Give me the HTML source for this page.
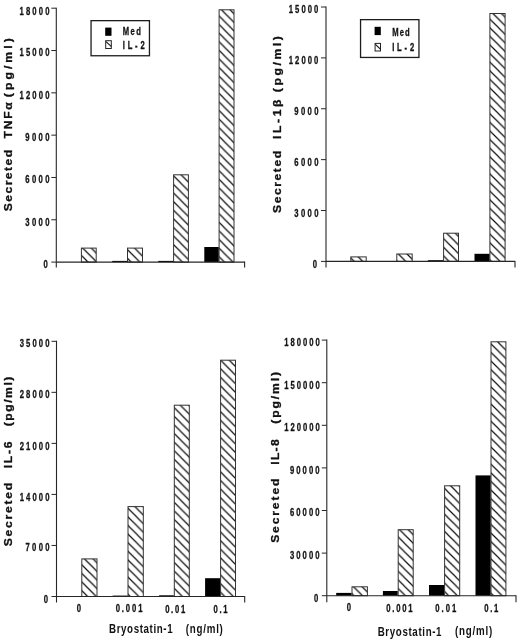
<!DOCTYPE html>
<html><head><meta charset="utf-8"><title>Bryostatin-1 cytokine secretion</title>
<style>
html,body{margin:0;padding:0;background:#fff;}
body{width:520px;height:642px;overflow:hidden;}
svg{display:block;will-change:transform;}
text{font-family:"Liberation Sans",sans-serif;fill:#111;stroke:#111;stroke-width:0.3px;paint-order:stroke;}
text.ns{stroke:none;}
</style></head>
<body>
<svg width="520" height="642" viewBox="0 0 520 642">
<defs>
<pattern id="h0" patternUnits="userSpaceOnUse" width="8.6" height="8.6" patternTransform="translate(0 2)"><path d="M-2.15,-2.15 L10.75,10.75 M-2.15,6.45 L2.15,10.75 M6.45,-2.15 L10.75,2.15" stroke="#0c0c0c" stroke-width="1.2" stroke-linecap="square"/></pattern>
<pattern id="h1" patternUnits="userSpaceOnUse" width="8.6" height="8.6" patternTransform="translate(0 1.8)"><path d="M-2.15,-2.15 L10.75,10.75 M-2.15,6.45 L2.15,10.75 M6.45,-2.15 L10.75,2.15" stroke="#0c0c0c" stroke-width="1.2" stroke-linecap="square"/></pattern>
<pattern id="h2" patternUnits="userSpaceOnUse" width="8.6" height="8.6" patternTransform="translate(0 2.3)"><path d="M-2.15,-2.15 L10.75,10.75 M-2.15,6.45 L2.15,10.75 M6.45,-2.15 L10.75,2.15" stroke="#0c0c0c" stroke-width="1.2" stroke-linecap="square"/></pattern>
<pattern id="h3" patternUnits="userSpaceOnUse" width="8.6" height="8.6" patternTransform="translate(0 3.3)"><path d="M-2.15,-2.15 L10.75,10.75 M-2.15,6.45 L2.15,10.75 M6.45,-2.15 L10.75,2.15" stroke="#0c0c0c" stroke-width="1.2" stroke-linecap="square"/></pattern>
<pattern id="h4" patternUnits="userSpaceOnUse" width="8.6" height="8.6" patternTransform="translate(0 1.8)"><path d="M-2.15,-2.15 L10.75,10.75 M-2.15,6.45 L2.15,10.75 M6.45,-2.15 L10.75,2.15" stroke="#0c0c0c" stroke-width="1.2" stroke-linecap="square"/></pattern>
<pattern id="h5" patternUnits="userSpaceOnUse" width="8.6" height="8.6" patternTransform="translate(0 1.8)"><path d="M-2.15,-2.15 L10.75,10.75 M-2.15,6.45 L2.15,10.75 M6.45,-2.15 L10.75,2.15" stroke="#0c0c0c" stroke-width="1.2" stroke-linecap="square"/></pattern>
<pattern id="h6" patternUnits="userSpaceOnUse" width="8.6" height="8.6" patternTransform="translate(0 1.5)"><path d="M-2.15,-2.15 L10.75,10.75 M-2.15,6.45 L2.15,10.75 M6.45,-2.15 L10.75,2.15" stroke="#0c0c0c" stroke-width="1.2" stroke-linecap="square"/></pattern>
<pattern id="h7" patternUnits="userSpaceOnUse" width="8.6" height="8.6" patternTransform="translate(0 2.2)"><path d="M-2.15,-2.15 L10.75,10.75 M-2.15,6.45 L2.15,10.75 M6.45,-2.15 L10.75,2.15" stroke="#0c0c0c" stroke-width="1.2" stroke-linecap="square"/></pattern>
<pattern id="h8" patternUnits="userSpaceOnUse" width="8.6" height="8.6" patternTransform="translate(0 1.4)"><path d="M-2.15,-2.15 L10.75,10.75 M-2.15,6.45 L2.15,10.75 M6.45,-2.15 L10.75,2.15" stroke="#0c0c0c" stroke-width="1.2" stroke-linecap="square"/></pattern>
<pattern id="h9" patternUnits="userSpaceOnUse" width="8.6" height="8.6" patternTransform="translate(0 1.9)"><path d="M-2.15,-2.15 L10.75,10.75 M-2.15,6.45 L2.15,10.75 M6.45,-2.15 L10.75,2.15" stroke="#0c0c0c" stroke-width="1.2" stroke-linecap="square"/></pattern>
<pattern id="h10" patternUnits="userSpaceOnUse" width="8.6" height="8.6" patternTransform="translate(0 1.3)"><path d="M-2.15,-2.15 L10.75,10.75 M-2.15,6.45 L2.15,10.75 M6.45,-2.15 L10.75,2.15" stroke="#0c0c0c" stroke-width="1.2" stroke-linecap="square"/></pattern>
<pattern id="h11" patternUnits="userSpaceOnUse" width="8.6" height="8.6" patternTransform="translate(0 2)"><path d="M-2.15,-2.15 L10.75,10.75 M-2.15,6.45 L2.15,10.75 M6.45,-2.15 L10.75,2.15" stroke="#0c0c0c" stroke-width="1.2" stroke-linecap="square"/></pattern>
<pattern id="h12" patternUnits="userSpaceOnUse" width="8.6" height="8.6" patternTransform="translate(0 1)"><path d="M-2.15,-2.15 L10.75,10.75 M-2.15,6.45 L2.15,10.75 M6.45,-2.15 L10.75,2.15" stroke="#0c0c0c" stroke-width="1.2" stroke-linecap="square"/></pattern>
<pattern id="h13" patternUnits="userSpaceOnUse" width="8.6" height="8.6" patternTransform="translate(0 1.1)"><path d="M-2.15,-2.15 L10.75,10.75 M-2.15,6.45 L2.15,10.75 M6.45,-2.15 L10.75,2.15" stroke="#0c0c0c" stroke-width="1.2" stroke-linecap="square"/></pattern>
<pattern id="h14" patternUnits="userSpaceOnUse" width="8.6" height="8.6" patternTransform="translate(0 0.8)"><path d="M-2.15,-2.15 L10.75,10.75 M-2.15,6.45 L2.15,10.75 M6.45,-2.15 L10.75,2.15" stroke="#0c0c0c" stroke-width="1.2" stroke-linecap="square"/></pattern>
<pattern id="h15" patternUnits="userSpaceOnUse" width="8.6" height="8.6" patternTransform="translate(0 -1)"><path d="M-2.15,-2.15 L10.75,10.75 M-2.15,6.45 L2.15,10.75 M6.45,-2.15 L10.75,2.15" stroke="#0c0c0c" stroke-width="1.2" stroke-linecap="square"/></pattern>
</defs>
<rect width="520" height="642" fill="#fff"/>
<rect x="81.4" y="248.1" width="14.8" height="14" fill="url(#h0)" stroke="#333" stroke-width="1"/>
<rect x="112.2" y="260.9" width="14.8" height="1.2" fill="#000"/>
<rect x="127.5" y="248.1" width="15" height="14" fill="url(#h1)" stroke="#333" stroke-width="1"/>
<rect x="158.2" y="260.9" width="14.9" height="1.2" fill="#000"/>
<rect x="173.6" y="174.8" width="14.8" height="87.3" fill="url(#h2)" stroke="#333" stroke-width="1"/>
<rect x="204.3" y="247" width="14.5" height="15.1" fill="#000"/>
<rect x="219.1" y="9.8" width="14.9" height="252.3" fill="url(#h3)" stroke="#333" stroke-width="1"/>
<line x1="56.3" y1="7.7" x2="56.3" y2="267.6" stroke="#262626" stroke-width="1.1"/>
<line x1="56.3" y1="262.1" x2="244.6" y2="262.1" stroke="#262626" stroke-width="1.1"/>
<line x1="244.6" y1="261.6" x2="244.6" y2="267.6" stroke="#262626" stroke-width="1.1"/>
<line x1="51.3" y1="8.2" x2="56.3" y2="8.2" stroke="#262626" stroke-width="1"/>
<text id="p1_t0" transform="translate(19.56 14.5) scale(0.74 1)" font-size="10.4" font-weight="bold" textLength="40.39" lengthAdjust="spacing">18000</text>
<line x1="51.3" y1="50.52" x2="56.3" y2="50.52" stroke="#262626" stroke-width="1"/>
<text id="p1_t1" transform="translate(19.56 56.39) scale(0.74 1)" font-size="10.4" font-weight="bold" textLength="40.39" lengthAdjust="spacing">15000</text>
<line x1="51.3" y1="92.83" x2="56.3" y2="92.83" stroke="#262626" stroke-width="1"/>
<text id="p1_t2" transform="translate(19.56 98.68) scale(0.74 1)" font-size="10.4" font-weight="bold" textLength="40.39" lengthAdjust="spacing">12000</text>
<line x1="51.3" y1="135.15" x2="56.3" y2="135.15" stroke="#262626" stroke-width="1"/>
<text id="p1_t3" transform="translate(25.23 141.47) scale(0.74 1)" font-size="10.4" font-weight="bold" textLength="32.79" lengthAdjust="spacing">9000</text>
<line x1="51.3" y1="177.47" x2="56.3" y2="177.47" stroke="#262626" stroke-width="1"/>
<text id="p1_t4" transform="translate(25.23 183.36) scale(0.74 1)" font-size="10.4" font-weight="bold" textLength="32.79" lengthAdjust="spacing">6000</text>
<line x1="51.3" y1="219.78" x2="56.3" y2="219.78" stroke="#262626" stroke-width="1"/>
<text id="p1_t5" transform="translate(25.23 225.65) scale(0.74 1)" font-size="10.4" font-weight="bold" textLength="32.79" lengthAdjust="spacing">3000</text>
<line x1="51.3" y1="262.1" x2="56.3" y2="262.1" stroke="#262626" stroke-width="1"/>
<text id="p1_t6" transform="translate(43.62 268.44) scale(0.74 1)" font-size="10.4" font-weight="bold" textLength="-2.7" lengthAdjust="spacing">0</text>
<text id="p1_ti0" transform="translate(11.7 211.18) rotate(-90) scale(1.12 1)" font-size="10.8" font-weight="bold" textLength="54.71" lengthAdjust="spacing">Secreted</text>
<text id="p1_ti1" transform="translate(11.7 138.38) rotate(-90) scale(1.12 1)" font-size="10.8" font-weight="bold" textLength="32.21" lengthAdjust="spacing">TNF&#945;</text>
<text id="p1_ti2" transform="translate(11.7 97.18) rotate(-90) scale(1.12 1)" font-size="10.8" font-weight="bold" textLength="52.57" lengthAdjust="spacing">(pg/ml)</text>
<rect x="91.05" y="20.65" width="58.4" height="35.1" fill="#fff" stroke="#1c1c1c" stroke-width="1.3"/>
<rect x="105.2" y="27.6" width="6.3" height="8.2" fill="#000"/>
<rect x="105.7" y="40.7" width="5.6" height="7.8" fill="#fff" stroke="#222" stroke-width="1"/>
<line x1="106" y1="41.7" x2="111.2" y2="46.4" stroke="#111" stroke-width="1.1"/>
<text id="p1_l0" transform="translate(122.78 35.38) scale(0.72 1)" font-size="10.6" font-weight="bold" textLength="25.28" lengthAdjust="spacing">Med</text>
<text id="p1_l1" transform="translate(122.78 49.06) scale(0.72 1)" font-size="10.6" font-weight="bold" textLength="30.44" lengthAdjust="spacing">IL-2</text>
<rect x="350.8" y="256.9" width="15.4" height="4.5" fill="url(#h4)" stroke="#333" stroke-width="1"/>
<rect x="396.8" y="254" width="15.4" height="7.4" fill="url(#h5)" stroke="#333" stroke-width="1"/>
<rect x="427.8" y="260.2" width="15.3" height="1.2" fill="#000"/>
<rect x="443.6" y="233.2" width="14.9" height="28.2" fill="url(#h6)" stroke="#333" stroke-width="1"/>
<rect x="474.5" y="253.8" width="15.1" height="7.6" fill="#000"/>
<rect x="489.9" y="13.5" width="15.2" height="247.9" fill="url(#h7)" stroke="#333" stroke-width="1"/>
<line x1="326" y1="6.5" x2="326" y2="267.6" stroke="#262626" stroke-width="1.1"/>
<line x1="326" y1="261.4" x2="515" y2="261.4" stroke="#262626" stroke-width="1.1"/>
<line x1="515" y1="260.9" x2="515" y2="267.6" stroke="#262626" stroke-width="1.1"/>
<line x1="321" y1="7" x2="326" y2="7" stroke="#262626" stroke-width="1"/>
<text id="p2_t0" transform="translate(288.68 13.38) scale(0.74 1)" font-size="10.4" font-weight="bold" textLength="40.16" lengthAdjust="spacing">15000</text>
<line x1="321" y1="57.88" x2="326" y2="57.88" stroke="#262626" stroke-width="1"/>
<text id="p2_t1" transform="translate(288.68 63.59) scale(0.74 1)" font-size="10.4" font-weight="bold" textLength="40.16" lengthAdjust="spacing">12000</text>
<line x1="321" y1="108.76" x2="326" y2="108.76" stroke="#262626" stroke-width="1"/>
<text id="p2_t2" transform="translate(294.35 114.7) scale(0.74 1)" font-size="10.4" font-weight="bold" textLength="32.56" lengthAdjust="spacing">9000</text>
<line x1="321" y1="159.64" x2="326" y2="159.64" stroke="#262626" stroke-width="1"/>
<text id="p2_t3" transform="translate(294.35 165.8) scale(0.74 1)" font-size="10.4" font-weight="bold" textLength="32.56" lengthAdjust="spacing">6000</text>
<line x1="321" y1="210.52" x2="326" y2="210.52" stroke="#262626" stroke-width="1"/>
<text id="p2_t4" transform="translate(294.35 216.51) scale(0.74 1)" font-size="10.4" font-weight="bold" textLength="32.56" lengthAdjust="spacing">3000</text>
<line x1="321" y1="261.4" x2="326" y2="261.4" stroke="#262626" stroke-width="1"/>
<text id="p2_t5" transform="translate(312.64 267.62) scale(0.74 1)" font-size="10.4" font-weight="bold" textLength="-3.83" lengthAdjust="spacing">0</text>
<text id="p2_ti0" transform="translate(281.16 212.94) rotate(-90) scale(1.12 1)" font-size="10.8" font-weight="bold" textLength="55.42" lengthAdjust="spacing">Secreted</text>
<text id="p2_ti1" transform="translate(281.16 139.06) rotate(-90) scale(1.12 1)" font-size="10.8" font-weight="bold" textLength="35.33" lengthAdjust="spacing">IL-1&#946;</text>
<text id="p2_ti2" transform="translate(281.16 92.3) rotate(-90) scale(1.12 1)" font-size="10.8" font-weight="bold" textLength="50.15" lengthAdjust="spacing">(pg/ml)</text>
<rect x="360.55" y="19.65" width="58.4" height="37.8" fill="#fff" stroke="#1c1c1c" stroke-width="1.3"/>
<rect x="374.6" y="26.8" width="6.2" height="8.3" fill="#000"/>
<rect x="375.1" y="43.4" width="5.4" height="7.6" fill="#fff" stroke="#222" stroke-width="1"/>
<line x1="375.4" y1="44.4" x2="380.4" y2="49.1" stroke="#111" stroke-width="1.1"/>
<text id="p2_l0" transform="translate(392.14 35.54) scale(0.72 1)" font-size="10.6" font-weight="bold" textLength="24.45" lengthAdjust="spacing">Med</text>
<text id="p2_l1" transform="translate(392.14 51.42) scale(0.72 1)" font-size="10.6" font-weight="bold" textLength="30.72" lengthAdjust="spacing">IL-2</text>
<rect x="81.8" y="558.9" width="15.2" height="37.6" fill="url(#h8)" stroke="#333" stroke-width="1"/>
<rect x="112.6" y="595.6" width="14.9" height="0.9" fill="#000"/>
<rect x="128" y="506.6" width="15.3" height="89.9" fill="url(#h9)" stroke="#333" stroke-width="1"/>
<rect x="159.1" y="595.3" width="14.7" height="1.2" fill="#000"/>
<rect x="174.3" y="405.2" width="15" height="191.3" fill="url(#h10)" stroke="#333" stroke-width="1"/>
<rect x="205.1" y="578.2" width="15.1" height="18.3" fill="#000"/>
<rect x="220.6" y="360.2" width="14.9" height="236.3" fill="url(#h11)" stroke="#333" stroke-width="1"/>
<line x1="56.5" y1="340.8" x2="56.5" y2="602.6" stroke="#262626" stroke-width="1.1"/>
<line x1="56.5" y1="596.5" x2="244.7" y2="596.5" stroke="#262626" stroke-width="1.1"/>
<line x1="244.7" y1="596" x2="244.7" y2="602.6" stroke="#262626" stroke-width="1.1"/>
<line x1="51.5" y1="341.3" x2="56.5" y2="341.3" stroke="#262626" stroke-width="1"/>
<text id="p3_t0" transform="translate(19.64 347.46) scale(0.74 1)" font-size="10.4" font-weight="bold" textLength="40.43" lengthAdjust="spacing">35000</text>
<line x1="51.5" y1="392.34" x2="56.5" y2="392.34" stroke="#262626" stroke-width="1"/>
<text id="p3_t1" transform="translate(19.64 398.4) scale(0.74 1)" font-size="10.4" font-weight="bold" textLength="40.43" lengthAdjust="spacing">28000</text>
<line x1="51.5" y1="443.38" x2="56.5" y2="443.38" stroke="#262626" stroke-width="1"/>
<text id="p3_t2" transform="translate(19.64 449.65) scale(0.74 1)" font-size="10.4" font-weight="bold" textLength="40.43" lengthAdjust="spacing">21000</text>
<line x1="51.5" y1="494.42" x2="56.5" y2="494.42" stroke="#262626" stroke-width="1"/>
<text id="p3_t3" transform="translate(19.64 500.59) scale(0.74 1)" font-size="10.4" font-weight="bold" textLength="40.43" lengthAdjust="spacing">14000</text>
<line x1="51.5" y1="545.46" x2="56.5" y2="545.46" stroke="#262626" stroke-width="1"/>
<text id="p3_t4" transform="translate(25.41 551.34) scale(0.74 1)" font-size="10.4" font-weight="bold" textLength="32.7" lengthAdjust="spacing">7000</text>
<line x1="51.5" y1="596.5" x2="56.5" y2="596.5" stroke="#262626" stroke-width="1"/>
<text id="p3_t5" transform="translate(43.7 602.58) scale(0.74 1)" font-size="10.4" font-weight="bold" textLength="-1.42" lengthAdjust="spacing">0</text>
<text id="p3_ti0" transform="translate(12.34 546.3) rotate(-90) scale(1.12 1)" font-size="10.8" font-weight="bold" textLength="56.58" lengthAdjust="spacing">Secreted</text>
<text id="p3_ti1" transform="translate(12.34 468.3) rotate(-90) scale(1.12 1)" font-size="10.8" font-weight="bold" textLength="24" lengthAdjust="spacing">IL-6</text>
<text id="p3_ti2" transform="translate(12.34 426.3) rotate(-90) scale(1.12 1)" font-size="10.8" font-weight="bold" textLength="44.35" lengthAdjust="spacing">(pg/ml)</text>
<text id="p3_x0" transform="translate(76.64 612.38) scale(0.74 1)" font-size="10.4" font-weight="bold" textLength="0.82" lengthAdjust="spacing">0</text>
<text id="p3_x1" transform="translate(115.7 612.34) scale(0.74 1)" font-size="10.4" font-weight="bold" textLength="36.17" lengthAdjust="spacing">0.001</text>
<text id="p3_x2" transform="translate(165.16 612.82) scale(0.74 1)" font-size="10.4" font-weight="bold" textLength="27.05" lengthAdjust="spacing">0.01</text>
<text id="p3_x3" transform="translate(213.58 612.82) scale(0.74 1)" font-size="10.4" font-weight="bold" textLength="18.74" lengthAdjust="spacing">0.1</text>
<text id="p3_xt0" class="ns" transform="translate(109 632.54) scale(0.8 1)" font-size="12.2" font-weight="bold" textLength="79.55" lengthAdjust="spacing">Bryostatin-1</text>
<text id="p3_xt1" class="ns" transform="translate(185.78 633.12) scale(0.8 1)" font-size="12.2" font-weight="bold" textLength="46.37" lengthAdjust="spacing">(ng/ml)</text>
<rect x="336.2" y="592.9" width="15.4" height="2.8" fill="#000"/>
<rect x="352" y="586.8" width="15.4" height="8.9" fill="url(#h12)" stroke="#333" stroke-width="1"/>
<rect x="382.9" y="591" width="14.8" height="4.7" fill="#000"/>
<rect x="398.2" y="529.7" width="15" height="66" fill="url(#h13)" stroke="#333" stroke-width="1"/>
<rect x="429" y="585" width="15.1" height="10.7" fill="#000"/>
<rect x="444.6" y="485.8" width="15.1" height="109.9" fill="url(#h14)" stroke="#333" stroke-width="1"/>
<rect x="475.5" y="475.4" width="15.2" height="120.3" fill="#000"/>
<rect x="491" y="341.8" width="14.9" height="253.9" fill="url(#h15)" stroke="#333" stroke-width="1"/>
<line x1="326.8" y1="339.6" x2="326.8" y2="602.3" stroke="#262626" stroke-width="1.1"/>
<line x1="326.8" y1="595.7" x2="516" y2="595.7" stroke="#262626" stroke-width="1.1"/>
<line x1="516" y1="595.2" x2="516" y2="602.3" stroke="#262626" stroke-width="1.1"/>
<line x1="321.8" y1="340.1" x2="326.8" y2="340.1" stroke="#262626" stroke-width="1"/>
<text id="p4_t0" transform="translate(284.31 346.44) scale(0.74 1)" font-size="10.4" font-weight="bold" textLength="48.04" lengthAdjust="spacing">180000</text>
<line x1="321.8" y1="382.7" x2="326.8" y2="382.7" stroke="#262626" stroke-width="1"/>
<text id="p4_t1" transform="translate(284.31 388.5) scale(0.74 1)" font-size="10.4" font-weight="bold" textLength="48.04" lengthAdjust="spacing">150000</text>
<line x1="321.8" y1="425.3" x2="326.8" y2="425.3" stroke="#262626" stroke-width="1"/>
<text id="p4_t2" transform="translate(284.31 431.36) scale(0.74 1)" font-size="10.4" font-weight="bold" textLength="48.04" lengthAdjust="spacing">120000</text>
<line x1="321.8" y1="467.9" x2="326.8" y2="467.9" stroke="#262626" stroke-width="1"/>
<text id="p4_t3" transform="translate(289.98 473.92) scale(0.74 1)" font-size="10.4" font-weight="bold" textLength="39.89" lengthAdjust="spacing">90000</text>
<line x1="321.8" y1="510.5" x2="326.8" y2="510.5" stroke="#262626" stroke-width="1"/>
<text id="p4_t4" transform="translate(289.98 516.38) scale(0.74 1)" font-size="10.4" font-weight="bold" textLength="39.89" lengthAdjust="spacing">60000</text>
<line x1="321.8" y1="553.1" x2="326.8" y2="553.1" stroke="#262626" stroke-width="1"/>
<text id="p4_t5" transform="translate(289.98 559.24) scale(0.74 1)" font-size="10.4" font-weight="bold" textLength="39.89" lengthAdjust="spacing">30000</text>
<line x1="321.8" y1="595.7" x2="326.8" y2="595.7" stroke="#262626" stroke-width="1"/>
<text id="p4_t6" transform="translate(314.04 601.8) scale(0.74 1)" font-size="10.4" font-weight="bold" textLength="0.6" lengthAdjust="spacing">0</text>
<text id="p4_ti0" transform="translate(279.4 542.82) rotate(-90) scale(1.12 1)" font-size="10.8" font-weight="bold" textLength="57.3" lengthAdjust="spacing">Secreted</text>
<text id="p4_ti1" transform="translate(279.4 464.76) rotate(-90) scale(1.12 1)" font-size="10.8" font-weight="bold" textLength="22.66" lengthAdjust="spacing">IL-8</text>
<text id="p4_ti2" transform="translate(279.4 423.82) rotate(-90) scale(1.12 1)" font-size="10.8" font-weight="bold" textLength="46.41" lengthAdjust="spacing">(pg/ml)</text>
<text id="p4_x0" transform="translate(346.7 611.34) scale(0.74 1)" font-size="10.4" font-weight="bold" textLength="13.28" lengthAdjust="spacing">0</text>
<text id="p4_x1" transform="translate(386.22 612.48) scale(0.74 1)" font-size="10.4" font-weight="bold" textLength="35.7" lengthAdjust="spacing">0.001</text>
<text id="p4_x2" transform="translate(435.22 612.08) scale(0.74 1)" font-size="10.4" font-weight="bold" textLength="28.57" lengthAdjust="spacing">0.01</text>
<text id="p4_x3" transform="translate(484.34 611.68) scale(0.74 1)" font-size="10.4" font-weight="bold" textLength="18.96" lengthAdjust="spacing">0.1</text>
<text id="p4_xt0" class="ns" transform="translate(377.7 635.66) scale(0.8 1)" font-size="12.2" font-weight="bold" textLength="79.81" lengthAdjust="spacing">Bryostatin-1</text>
<text id="p4_xt1" class="ns" transform="translate(455.06 635.23) scale(0.8 1)" font-size="12.2" font-weight="bold" textLength="46.54" lengthAdjust="spacing">(ng/ml)</text>
</svg>
</body></html>
